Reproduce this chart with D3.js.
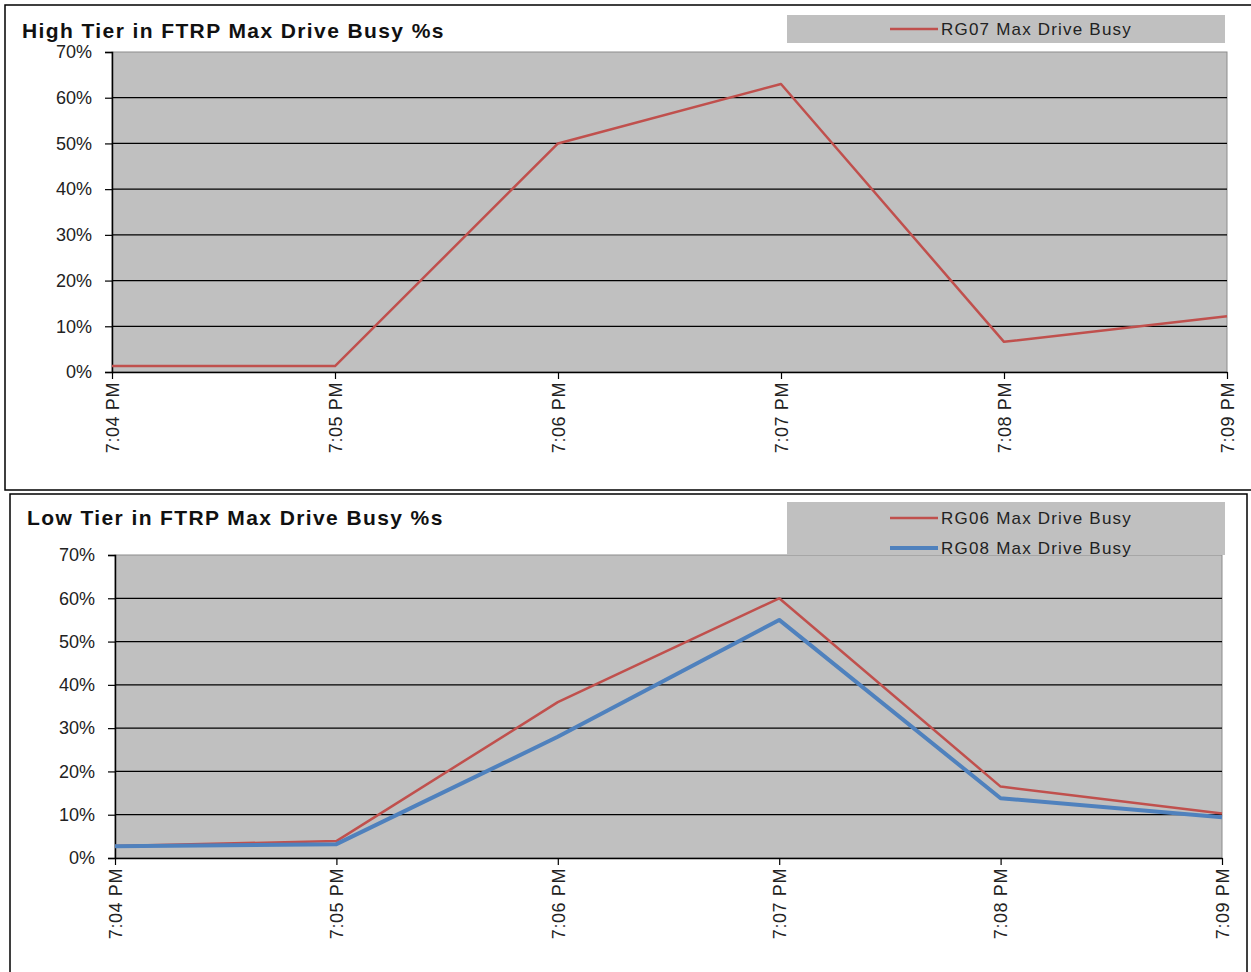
<!DOCTYPE html>
<html>
<head>
<meta charset="utf-8">
<script src="https://cdn.jsdelivr.net/npm/d3@7"></script>
<style>
  body { margin: 0; background: #fff; }
  svg { display: block; font-family: "Liberation Sans", Arial, sans-serif; }
</style>
</head>
<body>
<svg id="chart" width="1251" height="972"></svg>
<script>
var times = ['7:04 PM', '7:05 PM', '7:06 PM', '7:07 PM', '7:08 PM', '7:09 PM'];
var yTicks = [0, 10, 20, 30, 40, 50, 60, 70];

var rg07 = [1.3, 1.3, 50, 63, 6.6, 12.2];
var rg06 = [2.8, 3.9, 36, 60, 16.5, 10.3];
var rg08 = [2.7, 3.2, 28, 55, 13.8, 9.4];

var red = '#c0504d',
    blue = '#4f81bd';

var svg = d3.select('#chart');

function drawPanel(p) {
  var g = svg.append('g');

  // panel frame
  g.append('rect')
      .attr('x', p.frame[0]).attr('y', p.frame[1])
      .attr('width', p.frame[2]).attr('height', p.frame[3])
      .attr('fill', '#fff').attr('stroke', '#000').attr('stroke-width', 1.5);

  var x = d3.scalePoint().domain(times).range([p.left, p.right]);
  var y = d3.scaleLinear().domain([0, 70]).range([p.bottom, p.top]);

  // plot area
  g.append('rect')
      .attr('x', p.left).attr('y', p.top)
      .attr('width', p.right - p.left).attr('height', p.bottom - p.top)
      .attr('fill', '#c0c0c0').attr('stroke', '#8c8c8c').attr('stroke-width', 1);

  g.selectAll('line.grid').data(yTicks.filter(function(d) { return d > 0 && d < 70; }))
    .enter().append('line')
      .attr('class', 'grid')
      .attr('x1', p.left).attr('x2', p.right)
      .attr('y1', function(d) { return y(d); })
      .attr('y2', function(d) { return y(d); })
      .attr('stroke', '#000').attr('stroke-width', 1.2);

  // legend box
  g.append('rect')
      .attr('x', 787).attr('y', p.legendY)
      .attr('width', 438).attr('height', p.legendH)
      .attr('fill', '#c0c0c0');

  // axes
  var yAxis = g.append('g')
      .attr('transform', 'translate(' + p.left + ',0)')
      .call(d3.axisLeft(y).tickValues(yTicks).tickSize(7).tickPadding(13)
        .tickFormat(function(d) { return d + '%'; }));
  yAxis.select('.domain').attr('stroke', '#000').attr('stroke-width', 1.5);
  yAxis.selectAll('line').attr('stroke', '#000').attr('stroke-width', 1.2);
  yAxis.selectAll('text')
      .attr('font-size', 18).attr('fill', '#222')
      .attr('font-family', '"Liberation Sans", Arial, sans-serif');

  var xAxis = g.append('g')
      .attr('transform', 'translate(0,' + p.bottom + ')')
      .call(d3.axisBottom(x).tickSize(7).tickSizeOuter(0).tickPadding(4));
  xAxis.select('.domain').attr('stroke', '#000').attr('stroke-width', 1.5);
  xAxis.selectAll('line').attr('stroke', '#000').attr('stroke-width', 1.2);
  xAxis.selectAll('text')
      .attr('font-size', 18).attr('fill', '#222')
      .attr('letter-spacing', 0.6)
      .attr('font-family', '"Liberation Sans", Arial, sans-serif')
      .attr('text-anchor', 'end')
      .attr('dy', '0.35em')
      .attr('transform', 'translate(0,' + 10 + ') rotate(-90)')
      .attr('y', 0).attr('x', 0);

  // series
  var line = d3.line()
      .x(function(d, i) { return x(times[i]); })
      .y(function(d) { return y(d); });

  p.series.forEach(function(s) {
    g.append('path')
        .datum(s.values)
        .attr('d', line)
        .attr('fill', 'none')
        .attr('stroke', s.color)
        .attr('stroke-width', s.width)
        .attr('stroke-linejoin', 'round');
  });

  // title
  g.append('text')
      .attr('x', p.titleX).attr('y', p.titleY)
      .attr('font-size', 21).attr('letter-spacing', 1.4)
      .attr('font-weight', 'bold').attr('fill', '#111')
      .text(p.title);

  // legend entries
  p.series.forEach(function(s, i) {
    var ly = p.legendY + p.legendItemY + i * 30;
    g.append('line')
        .attr('x1', 890).attr('x2', 938)
        .attr('y1', ly).attr('y2', ly)
        .attr('stroke', s.color).attr('stroke-width', s.width);
    g.append('text')
        .attr('x', 941).attr('y', ly)
        .attr('dy', '0.35em')
        .attr('font-size', 17).attr('letter-spacing', 1.2).attr('fill', '#222')
        .text(s.name);
  });
}

drawPanel({
  frame: [5, 5, 1260, 485],
  left: 112, right: 1227, top: 52, bottom: 372,
  title: 'High Tier in FTRP Max Drive Busy %s', titleX: 22, titleY: 38,
  legendY: 15, legendH: 28, legendItemY: 14,
  series: [
    { name: 'RG07 Max Drive Busy', values: rg07, color: red, width: 2.5 }
  ]
});

drawPanel({
  frame: [10, 494, 1237, 490],
  left: 115, right: 1222, top: 555, bottom: 858,
  title: 'Low Tier in FTRP Max Drive Busy %s', titleX: 27, titleY: 525,
  legendY: 502, legendH: 53, legendItemY: 16,
  series: [
    { name: 'RG06 Max Drive Busy', values: rg06, color: red, width: 2.5 },
    { name: 'RG08 Max Drive Busy', values: rg08, color: blue, width: 4 }
  ]
});
</script>
</body>
</html>
